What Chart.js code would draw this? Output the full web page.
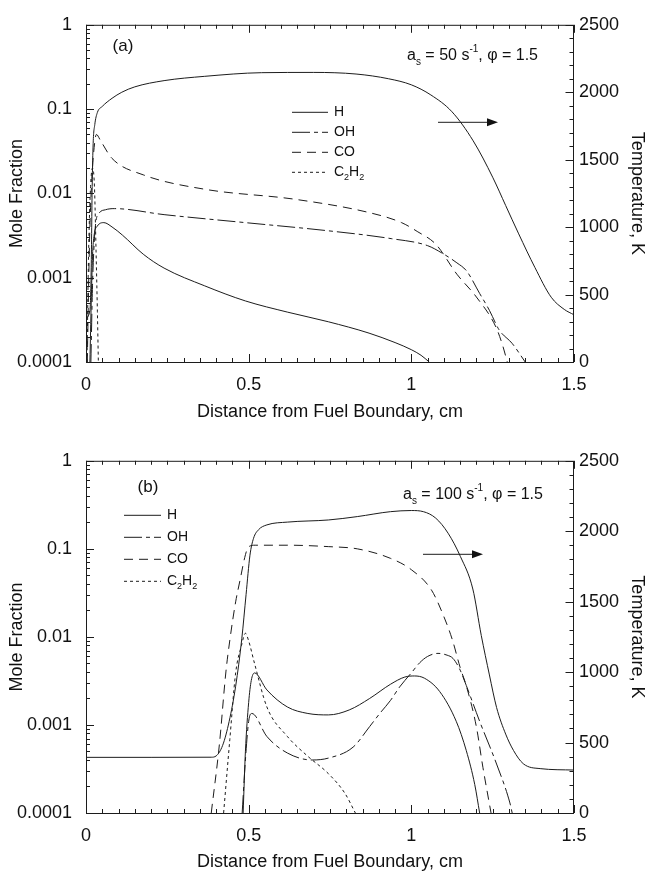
<!DOCTYPE html>
<html lang="en">
<head>
  <meta charset="UTF-8">
  <title>Mole fraction and temperature profiles</title>
  <script src="https://cdn.jsdelivr.net/npm/chart.js"></script>
  <style>
    * { margin: 0; padding: 0; box-sizing: border-box; }
    body { background: white; width: 646px; height: 871px; overflow: hidden; }
    canvas { display: block; }
  </style>
</head>
<body>
  <canvas id="panelA" width="646" height="436"></canvas>
  <canvas id="panelB" width="646" height="435"></canvas>

  <script>
    // ---------- tick labels ----------
    const xTickLabels = [0, 0.5, 1, 1.5];
    const moleTickLabels = [0.0001, 0.001, 0.01, 0.1, 1];
    const tempTickLabels = [0, 500, 1000, 1500, 2000, 2500];
    const speciesLabels = ['H', 'OH', 'CO', 'C2H2'];

    // ---------- panel (a): a_s = 50 1/s ----------
    const aTempX = [0, 0.012, 0.016, 0.019, 0.022, 0.027, 0.035, 0.05, 0.08, 0.11, 0.15, 0.24, 0.365, 0.54, 0.7, 0.83, 0.93, 1.0, 1.06, 1.125, 1.19, 1.25, 1.29, 1.33, 1.38, 1.43, 1.47, 1.5];
    const aTempK = [330, 380, 700, 1300, 1620, 1760, 1850, 1895, 1955, 2000, 2040, 2086, 2118, 2145, 2147, 2135, 2100, 2055, 1980, 1855, 1640, 1370, 1160, 950, 700, 480, 390, 350];

    const aHX = [0.012, 0.016, 0.02, 0.025, 0.035, 0.055, 0.08, 0.112, 0.176, 0.24, 0.365, 0.49, 0.62, 0.745, 0.87, 0.95, 1.0, 1.03, 1.055];
    const aHY = [0.0001, 0.0005, 0.0018, 0.0032, 0.0041, 0.0045, 0.004, 0.0032, 0.0019, 0.0013, 0.0008, 0.00053, 0.00039, 0.0003, 0.00022, 0.00017, 0.00014, 0.00012, 0.0001];

    const aOHX = [0.015, 0.02, 0.025, 0.03, 0.04, 0.06, 0.087, 0.24, 0.49, 0.745, 0.94, 1.05, 1.1, 1.14, 1.17, 1.21, 1.24, 1.27, 1.31, 1.35];
    const aOHY = [0.0001, 0.0008, 0.0025, 0.0045, 0.0058, 0.0064, 0.0066, 0.0056, 0.0045, 0.0036, 0.0029, 0.0024, 0.0019, 0.0015, 0.0012, 0.00065, 0.00041, 0.00024, 0.000166, 0.0001];

    const aCOX = [0.004, 0.008, 0.012, 0.018, 0.025, 0.032, 0.045, 0.08, 0.176, 0.365, 0.644, 0.872, 0.97, 1.02, 1.075, 1.14, 1.2, 1.26, 1.28, 1.295];
    const aCOY = [0.0001, 0.0008, 0.004, 0.015, 0.035, 0.05, 0.042, 0.026, 0.0166, 0.0112, 0.0085, 0.0059, 0.0045, 0.0035, 0.0025, 0.0011, 0.00059, 0.00026, 0.00016, 0.0001];

    const aC2H2X = [0.003, 0.008, 0.014, 0.02, 0.026, 0.031, 0.035, 0.038];
    const aC2H2Y = [0.0001, 0.002, 0.012, 0.02, 0.012, 0.002, 0.0004, 0.0001];

    // ---------- panel (b): a_s = 100 1/s ----------
    const bTempX = [0, 0.2, 0.385, 0.4, 0.42, 0.44, 0.46, 0.479, 0.492, 0.504, 0.515, 0.53, 0.556, 0.62, 0.745, 0.834, 0.936, 1.0, 1.037, 1.075, 1.113, 1.151, 1.189, 1.215, 1.24, 1.262, 1.29, 1.314, 1.344, 1.396, 1.5];
    const bTempK = [395, 395, 396, 405, 480, 650, 900, 1240, 1550, 1830, 1950, 2010, 2045, 2065, 2080, 2104, 2139, 2147, 2139, 2093, 1986, 1820, 1590, 1260, 980, 749, 560, 444, 350, 315, 305];

    const bHX = [0.483, 0.49, 0.5, 0.508, 0.518, 0.556, 0.619, 0.682, 0.745, 0.809, 0.872, 0.936, 0.98, 1.01, 1.04, 1.087, 1.138, 1.169, 1.195, 1.21];
    const bHY = [0.0001, 0.0005, 0.0018, 0.0032, 0.0039, 0.0025, 0.0016, 0.00135, 0.0013, 0.00148, 0.002, 0.0029, 0.0035, 0.0036, 0.0034, 0.0024, 0.0011, 0.00051, 0.00021, 0.0001];

    const bOHX = [0.48, 0.49, 0.5, 0.51, 0.556, 0.619, 0.695, 0.745, 0.821, 0.872, 0.903, 0.936, 0.964, 1.0, 1.026, 1.05, 1.082, 1.11, 1.128, 1.15, 1.169, 1.21, 1.262, 1.303, 1.31];
    const bOHY = [0.0001, 0.0004, 0.0011, 0.00135, 0.00074, 0.00048, 0.0004, 0.00042, 0.00056, 0.00096, 0.00135, 0.0019, 0.0027, 0.0039, 0.0051, 0.006, 0.0065, 0.0062, 0.0057, 0.0042, 0.0028, 0.0011, 0.00036, 0.00013, 0.0001];

    const bCOX = [0.385, 0.41, 0.43, 0.443, 0.46, 0.474, 0.488, 0.499, 0.52, 0.62, 0.745, 0.834, 0.936, 1.0, 1.062, 1.1, 1.126, 1.15, 1.17, 1.2, 1.22, 1.245];
    const bCOY = [0.0001, 0.0006, 0.004, 0.0097, 0.025, 0.045, 0.08, 0.105, 0.11, 0.11, 0.106, 0.1, 0.078, 0.058, 0.034, 0.017, 0.0093, 0.0045, 0.0027, 0.00095, 0.00033, 0.0001];

    const bC2H2X = [0.423, 0.442, 0.46, 0.478, 0.49, 0.5, 0.518, 0.556, 0.619, 0.682, 0.745, 0.796, 0.828];
    const bC2H2Y = [0.0001, 0.00068, 0.0039, 0.008, 0.011, 0.009, 0.005, 0.0016, 0.00074, 0.00044, 0.00028, 0.000167, 0.0001];

    // ---------- styling ----------
    const FONT = '"Liberation Sans", Arial, Helvetica, sans-serif';
    const INK = '#1c1c1c';
    Chart.defaults.font.family = FONT;
    Chart.defaults.color = '#111';

    const dashes = { T: [], H: [], OH: [18, 4, 4, 4], CO: [9, 6], C2H2: [3, 3] };

    function pts(xs, ys) {
      return xs.map((x, i) => ({ x: x, y: ys[i] }));
    }

    function line(label, data, axis) {
      return {
        label: label,
        data: data,
        yAxisID: axis,
        borderColor: INK,
        borderWidth: 1,
        borderDash: dashes[label],
        pointRadius: 0,
        fill: false,
        cubicInterpolationMode: 'monotone'
      };
    }

    function near(list, v) {
      return list.find(d => Math.abs(d - v) <= Math.abs(d) * 1e-6 + 1e-9);
    }

    // text with sub / superscripts
    function drawRich(ctx, parts, x, y, size) {
      let cx = x;
      ctx.textBaseline = 'middle';
      ctx.textAlign = 'left';
      parts.forEach(p => {
        const small = p.sub || p.sup;
        ctx.font = (small ? Math.round(size * 0.62) : size) + 'px ' + FONT;
        const dy = p.sub ? size * 0.4 : p.sup ? -size * 0.38 : 0;
        ctx.fillText(p.t, cx, y + dy);
        cx += ctx.measureText(p.t).width;
      });
    }

    function chemParts(label) {
      return label.match(/[A-Za-z]+|\d+/g).map(s => /\d/.test(s) ? { t: s, sub: true } : { t: s });
    }

    function isMantissaInt(v) {
      const m = v / Math.pow(10, Math.floor(Math.log10(v) + 1e-9));
      return Math.abs(m - Math.round(m)) < 1e-6;
    }

    const framePlugin = {
      id: 'frame',
      afterDatasetsDraw(chart, args, o) {
        const { ctx, chartArea: a, scales } = chart;
        ctx.save();
        ctx.strokeStyle = INK;
        ctx.fillStyle = '#111';
        ctx.lineWidth = 1;
        ctx.setLineDash([]);

        // frame
        ctx.strokeRect(a.left + 0.5, a.top + 0.5, a.right - a.left - 1, a.bottom - a.top);

        ctx.beginPath();
        // x ticks, bottom and top
        scales.x.ticks.forEach(t => {
          const px = Math.round(scales.x.getPixelForValue(t.value)) + 0.5;
          const len = near(xTickLabels, t.value) !== undefined ? 8 : 4;
          ctx.moveTo(px, a.bottom); ctx.lineTo(px, a.bottom - len);
          ctx.moveTo(px, a.top); ctx.lineTo(px, a.top + len);
        });
        // log ticks, left
        scales.y.ticks.forEach(t => {
          if (!isMantissaInt(t.value)) return;
          const py = Math.round(scales.y.getPixelForValue(t.value)) + 0.5;
          const len = near(moleTickLabels, t.value) !== undefined ? 8 : 4;
          ctx.moveTo(a.left, py); ctx.lineTo(a.left + len, py);
        });
        // temperature ticks, right
        scales.yT.ticks.forEach(t => {
          const py = Math.round(scales.yT.getPixelForValue(t.value)) + 0.5;
          const len = near(tempTickLabels, t.value) !== undefined ? 8 : 4;
          ctx.moveTo(a.right - 0.5, py); ctx.lineTo(a.right - 0.5 - len, py);
        });
        ctx.stroke();

        // legend from the species datasets
        const lg = o.legend;
        chart.data.datasets.filter(d => d.yAxisID === 'y').forEach((d, i) => {
          const y = a.top + lg.y + i * lg.step + 0.5;
          ctx.setLineDash(d.borderDash);
          ctx.beginPath();
          ctx.moveTo(a.left + lg.x1, y);
          ctx.lineTo(a.left + lg.x2, y);
          ctx.stroke();
          ctx.setLineDash([]);
          drawRich(ctx, chemParts(d.label), a.left + lg.tx, y, 14);
        });

        // panel tag and conditions
        ctx.font = '17px ' + FONT;
        ctx.textAlign = 'center';
        ctx.textBaseline = 'middle';
        ctx.fillText(o.tag, a.left + o.tagAt[0], a.top + o.tagAt[1]);
        drawRich(ctx, [
          { t: 'a' }, { t: 's', sub: true }, { t: ' = ' + o.rate + ' s' },
          { t: '-1', sup: true }, { t: ', \u03c6 = ' + o.phi }
        ], a.left + o.rateAt[0], a.top + o.rateAt[1], 16);

        // arrow pointing to the temperature axis
        const ar = o.arrow;
        const ay = a.top + ar.y + 0.5;
        ctx.beginPath();
        ctx.moveTo(a.left + ar.x1, ay);
        ctx.lineTo(a.left + ar.x2 - 6, ay);
        ctx.stroke();
        ctx.beginPath();
        ctx.moveTo(a.left + ar.x2, ay);
        ctx.lineTo(a.left + ar.x2 - 11, ay - 4);
        ctx.lineTo(a.left + ar.x2 - 11, ay + 4);
        ctx.closePath();
        ctx.fill();
        ctx.restore();
      }
    };

    function makePanel(id, sets, pad, xHeight, frameOpts) {
      return new Chart(document.getElementById(id), {
        type: 'line',
        data: { datasets: sets },
        options: {
          responsive: false,
          animation: false,
          events: [],
          layout: { padding: pad },
          plugins: { legend: { display: false }, tooltip: { enabled: false }, frame: frameOpts },
          scales: {
            x: {
              type: 'linear', min: 0, max: 1.5,
              grid: { display: false, drawTicks: false },
              border: { display: false },
              ticks: {
                stepSize: 0.05, autoSkip: false, maxRotation: 0, padding: 12,
                font: { size: 18 },
                callback: v => { const d = near(xTickLabels, v); return d === undefined ? '' : String(d); }
              },
              title: { display: true, text: 'Distance from Fuel Boundary, cm', font: { size: 18, lineHeight: 1 }, padding: 0 },
              afterFit: s => { s.height = xHeight; }
            },
            y: {
              type: 'logarithmic', position: 'left', min: 0.0001, max: 1,
              grid: { display: false, drawTicks: false },
              border: { display: false },
              ticks: {
                autoSkip: false, padding: 14, font: { size: 18 },
                callback: v => { const d = near(moleTickLabels, v); return d === undefined ? '' : String(d); }
              },
              title: { display: true, text: 'Mole Fraction', font: { size: 18, lineHeight: 1 }, padding: 0 },
              afterFit: s => { s.width = 78; }
            },
            yT: {
              type: 'linear', position: 'right', min: 0, max: 2500,
              grid: { display: false, drawTicks: false },
              border: { display: false },
              ticks: {
                stepSize: 100, autoSkip: false, padding: 5, font: { size: 18 },
                callback: v => { const d = near(tempTickLabels, v); return d === undefined ? '' : String(d); }
              },
              title: { display: true, text: 'Temperature, K', font: { size: 18, lineHeight: 1 }, padding: 0 },
              afterFit: s => { s.width = 72; }
            }
          }
        },
        plugins: [framePlugin]
      });
    }

    makePanel('panelA', [
      line('T', pts(aTempX, aTempK), 'yT'),
      line(speciesLabels[0], pts(aHX, aHY), 'y'),
      line(speciesLabels[1], pts(aOHX, aOHY), 'y'),
      line(speciesLabels[2], pts(aCOX, aCOY), 'y'),
      line(speciesLabels[3], pts(aC2H2X, aC2H2Y), 'y')
    ], { left: 8, right: 0, top: 21, bottom: 15 }, 59, {
      tag: '(a)', tagAt: [37, 22],
      rate: '50', phi: '1.5', rateAt: [321, 31],
      legend: { x1: 206, x2: 242, tx: 248, y: 87, step: 20 },
      arrow: { x1: 352, x2: 412, y: 97 }
    });

    makePanel('panelB', [
      line('T', pts(bTempX, bTempK), 'yT'),
      line(speciesLabels[0], pts(bHX, bHY), 'y'),
      line(speciesLabels[1], pts(bOHX, bOHY), 'y'),
      line(speciesLabels[2], pts(bCOX, bCOY), 'y'),
      line(speciesLabels[3], pts(bC2H2X, bC2H2Y), 'y')
    ], { left: 8, right: 0, top: 22, bottom: 0 }, 58, {
      tag: '(b)', tagAt: [62, 27],
      rate: '100', phi: '1.5', rateAt: [317, 34],
      legend: { x1: 38, x2: 75, tx: 81, y: 54, step: 22 },
      arrow: { x1: 337, x2: 397, y: 93 }
    });
  </script>
</body>
</html>
